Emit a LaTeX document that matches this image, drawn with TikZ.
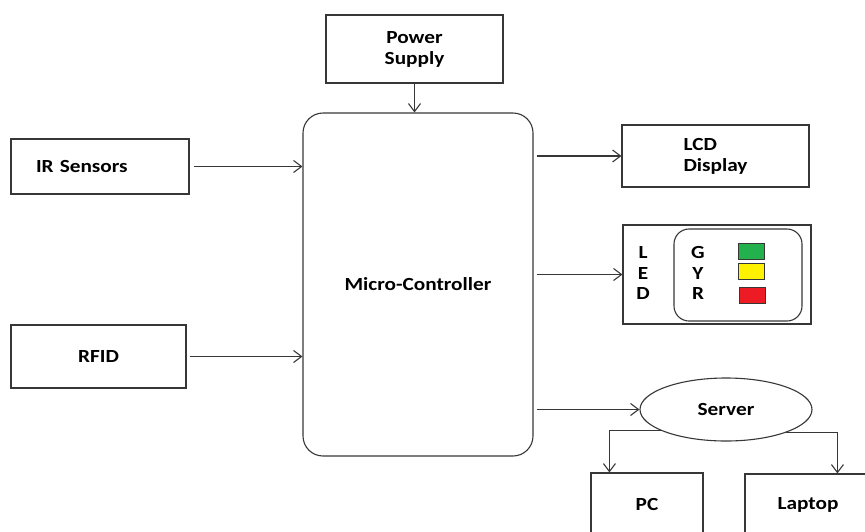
\documentclass[tikz,border=0pt]{standalone}
\usepackage{fontspec}
\setmainfont{Carlito}[FakeStretch=1.15]
\usetikzlibrary{arrows.meta, positioning, shapes.geometric, calc}
\definecolor{lampgreen}{RGB}{34,177,76}
\definecolor{lampyellow}{RGB}{255,242,0}
\definecolor{lampred}{RGB}{237,28,36}
\definecolor{inkline}{RGB}{55,55,55}

\begin{document}
\begin{tikzpicture}[x=1pt, y=-1pt,
    every node/.style={font=\bfseries\fontsize{18.5}{21}\selectfont},
    box/.style={draw=inkline, line width=1.1pt, rectangle, inner sep=0pt},
    lamp/.style={draw=inkline, line width=1pt, minimum width=26pt, minimum height=16pt, inner sep=0pt},
    conn/.style={-{Straight Barb[length=8pt,width=12pt]}, draw=inkline, line width=1.1pt}]
            \useasboundingbox (0,0) rectangle (865,531);
            \clip (0,0) rectangle (865,531);
            % blocks
            \node[box, minimum width=177pt, minimum height=68pt, align=center] (power) at (414.5,49) {Power\\Supply};
            \node[box, rounded corners=20pt, minimum width=230pt, minimum height=343pt] (mcu) at (418,284.5) {Micro-Controller};
            \node[box, text width=128pt, inner xsep=25pt, minimum height=55pt, align=left] (ir) at (100,166.5) {IR Sensors};
            \node[box, minimum width=175pt, minimum height=63pt] (rfid) at (98.5,356.5) {RFID};
            \node[box, minimum width=187pt, minimum height=62pt, align=left] (lcd) at (715.5,156) {LCD\\Display};
            \node[box, minimum width=188pt, minimum height=99pt] (led) at (717,274.5) {};
            \node[box, rounded corners=15pt, minimum width=128pt, minimum height=92pt] (ledin) at (738,275) {};
            \node[align=center, font=\bfseries\fontsize{18.5}{20.5}\selectfont] (ledtag) at (643,273) {L\\E\\D};
            \node[align=center, font=\bfseries\fontsize{18.5}{20.5}\selectfont] (gyr) at (698,273) {G\\Y\\R};
            \node[lamp, fill=lampgreen] (green) at (751,251) {};
            \node[lamp, fill=lampyellow] (yellow) at (751,271.5) {};
            \node[lamp, fill=lampred] (red) at (752.5,295) {};
            \node[ellipse, draw=inkline, line width=1.1pt, minimum width=172pt, minimum height=63pt, inner sep=0pt] (server) at (726,409.5) {Server};
            \node[box, minimum width=112pt, minimum height=62pt] (pc) at (647,504) {PC};
            \node[box, minimum width=126pt, minimum height=61pt] (laptop) at (808,504.5) {Laptop};
            % connectors
            \draw[conn] (power) -- (mcu.north -| power);
            \draw[conn, shorten <=4pt] (ir.east) -- (ir.east -| mcu.west);
            \draw[conn, shorten <=3pt] (rfid.east) -- (rfid.east -| mcu.west);
            \draw[conn, shorten <=3pt] (lcd.west -| mcu.east) -- (lcd.west);
            \draw[conn, shorten <=3pt] (led.west -| mcu.east) -- (led.west);
            \draw[conn, shorten <=3pt] (server.west -| mcu.east) -- (server.west);
            \draw[conn] (server.198) -| ($(pc.north west)+(19,0)$);
            \draw[conn] (server.339) -| ($(laptop.north west)+(93,0)$);
\end{tikzpicture}
\end{document}
